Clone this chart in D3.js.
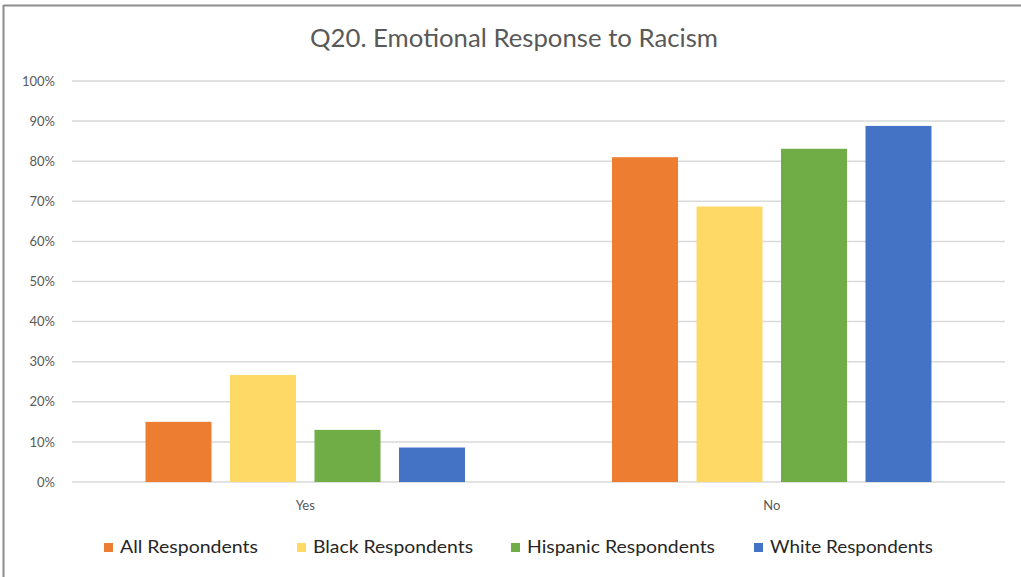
<!DOCTYPE html>
<html>
<head>
<meta charset="utf-8">
<script src="https://cdn.jsdelivr.net/npm/d3@7"></script>
<style>
  html, body { margin: 0; padding: 0; background: #fff; }
  svg { display: block; font-family: Lato, "Open Sans", sans-serif; }
</style>
</head>
<body>
<svg id="chart" width="1021" height="577"></svg>
<script>
// Survey answers by respondent group
const categories = ["Yes", "No"];
const seriesNames = ["All Respondents", "Black Respondents", "Hispanic Respondents", "White Respondents"];
const seriesColors = ["#ED7D31", "#FFD966", "#70AD47", "#4472C4"];
const allRespondents = [15.0, 81.0];
const blackRespondents = [26.7, 68.7];
const hispanicRespondents = [13.0, 83.1];
const whiteRespondents = [8.6, 88.8];
const yTicks = [0, 10, 20, 30, 40, 50, 60, 70, 80, 90, 100];
const titleText = "Q20. Emotional Response to Racism";

const seriesValues = [allRespondents, blackRespondents, hispanicRespondents, whiteRespondents];

const svg = d3.select("#chart");
const W = 1021, H = 577;
const margin = { left: 72, right: 16, top: 81, bottom: 95 };

// Chart frame (top and left edges)
svg.append("line").attr("x1", 3.5).attr("x2", W).attr("y1", 5.5).attr("y2", 5.5)
  .attr("stroke", "#8c8c8c").attr("stroke-width", 2);
svg.append("line").attr("x1", 3.5).attr("x2", 3.5).attr("y1", 5).attr("y2", H)
  .attr("stroke", "#8c8c8c").attr("stroke-width", 2);

const y = d3.scaleLinear().domain([0, 100]).range([H - margin.bottom, margin.top]);
const x0 = d3.scaleBand().domain(categories).range([margin.left, W - margin.right]);
const x1 = d3.scaleBand().domain(seriesNames).range([0, x0.bandwidth()])
  .paddingInner(0.219).paddingOuter(0.87);

// Gridlines
svg.append("g").selectAll("line").data(yTicks).join("line")
  .attr("x1", margin.left).attr("x2", W - margin.right)
  .attr("y1", d => y(d)).attr("y2", d => y(d))
  .attr("stroke", "#d9d9d9").attr("stroke-width", 1.5);

// Y axis labels
const yAxis = d3.axisLeft(y).tickValues(yTicks).tickFormat(d => d + "%").tickSize(0).tickPadding(17);
const gy = svg.append("g").attr("transform", `translate(${margin.left},0)`).call(yAxis);
gy.select(".domain").remove();
gy.selectAll("text").attr("fill", "#595959").style("font-size", "13px")
  .style("font-family", "Lato, 'Open Sans', sans-serif");

// Bars
const groups = svg.append("g").selectAll("g").data(categories).join("g")
  .attr("transform", d => `translate(${x0(d)},0)`);
groups.selectAll("rect")
  .data((c, ci) => seriesNames.map((s, si) => ({ s, si, v: seriesValues[si][ci] })))
  .join("rect")
  .attr("x", d => x1(d.s))
  .attr("width", x1.bandwidth())
  .attr("y", d => y(d.v))
  .attr("height", d => y(0) - y(d.v))
  .attr("fill", d => seriesColors[d.si]);

// Category labels
const xAxis = d3.axisBottom(x0).tickSize(0).tickPadding(19);
const gx = svg.append("g").attr("transform", `translate(0,${y(0)})`).call(xAxis);
gx.select(".domain").remove();
gx.selectAll("text").attr("fill", "#595959").style("font-size", "13px")
  .style("font-family", "Lato, 'Open Sans', sans-serif");

// Title
svg.append("text").attr("x", 514).attr("y", 47).attr("text-anchor", "middle")
  .attr("fill", "#595959").style("font-size", "25px")
  .attr("textLength", 408).attr("lengthAdjust", "spacingAndGlyphs")
  .text(titleText);

// Legend
const legendX = [104, 297, 511, 754];
const legendTextEnd = [258, 473, 715, 933];
const lg = svg.append("g").selectAll("g").data(seriesNames).join("g")
  .attr("transform", (d, i) => `translate(${legendX[i]},543)`);
lg.append("rect").attr("width", 9).attr("height", 9).attr("fill", (d, i) => seriesColors[i]);
lg.append("text").attr("x", 16).attr("y", 9.5).attr("fill", "#262626")
  .style("font-size", "17px")
  .attr("textLength", (d, i) => legendTextEnd[i] - legendX[i] - 16)
  .attr("lengthAdjust", "spacingAndGlyphs")
  .text(d => d);
</script>
</body>
</html>
